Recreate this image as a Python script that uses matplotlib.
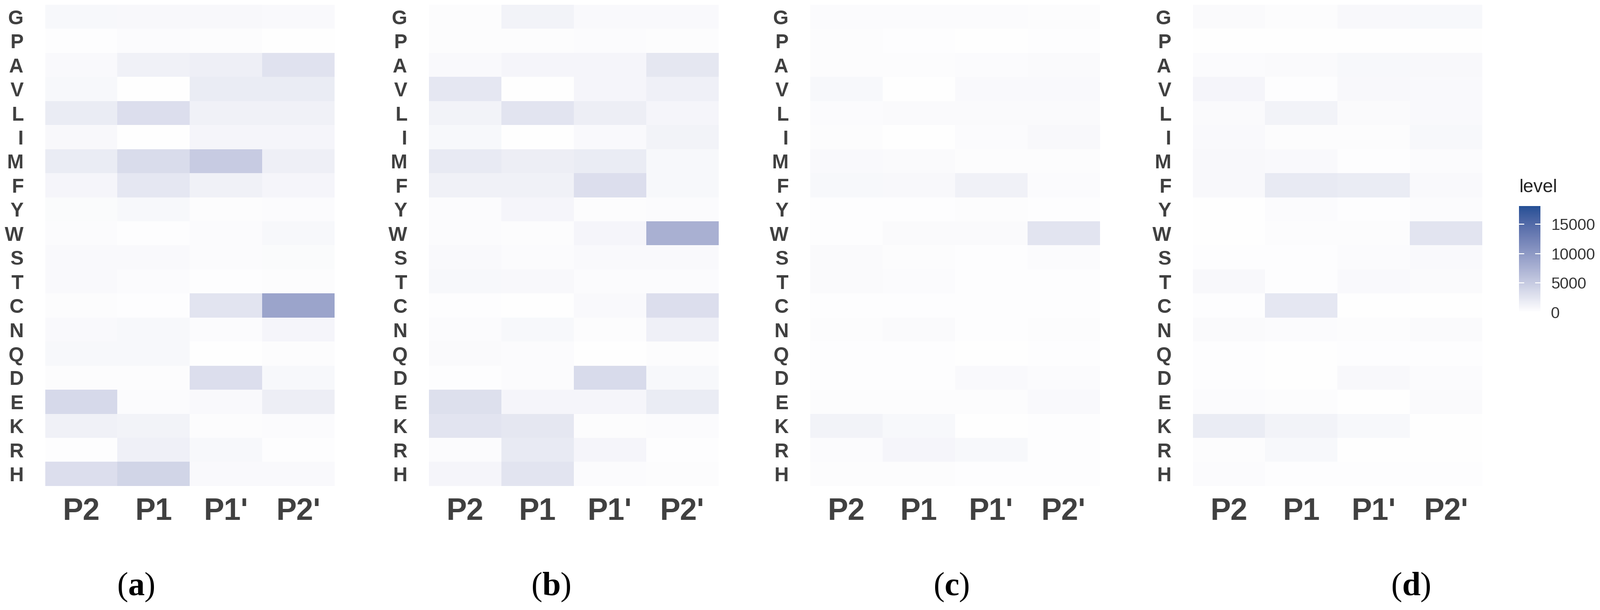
import numpy as np
import matplotlib.pyplot as plt
from matplotlib.colors import ListedColormap, Normalize

plt.rcParams['mathtext.fontset'] = 'custom'
plt.rcParams['mathtext.rm'] = 'Liberation Serif'
plt.rcParams['mathtext.bf'] = 'Liberation Serif:bold'

residues = ["G", "P", "A", "V", "L", "I", "M", "F", "Y", "W",
            "S", "T", "C", "N", "Q", "D", "E", "K", "R", "H"]
positions = ["P2", "P1", "P1'", "P2'"]
panel_tags = ["a", "b", "c", "d"]

# level for each residue (rows) at P2, P1, P1', P2'
level_a = [[700, 600, 600, 500], [150, 300, 250, 50], [500, 1300, 1500, 2700],
           [700, 0, 1800, 1800], [1800, 3100, 1300, 1300], [600, 100, 900, 900],
           [1800, 3300, 4900, 1500], [900, 2200, 1300, 900], [400, 700, 250, 350],
           [350, 200, 350, 700], [500, 500, 300, 400], [500, 350, 200, 250],
           [250, 150, 2500, 8800], [500, 700, 350, 900], [700, 700, 50, 250],
           [250, 250, 3100, 700], [3600, 350, 500, 1600], [1300, 1100, 250, 350],
           [200, 1400, 700, 150], [3100, 4000, 500, 500]]
level_b = [[250, 1100, 500, 500], [250, 250, 300, 250], [500, 900, 900, 2300],
           [2200, 0, 900, 1400], [1100, 2500, 1600, 900], [700, 0, 500, 1100],
           [2000, 1600, 1800, 700], [1300, 1300, 3100, 700], [350, 900, 250, 350],
           [350, 250, 900, 7600], [500, 350, 500, 500], [700, 600, 350, 300],
           [150, 100, 500, 3100], [350, 700, 250, 1400], [450, 350, 50, 250],
           [150, 350, 3400, 700], [2900, 900, 900, 1800], [2500, 2300, 250, 350],
           [350, 2000, 900, 200], [900, 2500, 350, 250]]
level_c = [[350, 350, 350, 250], [250, 150, 80, 150], [250, 250, 350, 450],
           [700, 0, 500, 500], [350, 450, 450, 450], [250, 0, 350, 600],
           [500, 450, 250, 250], [700, 600, 1300, 350], [150, 150, 250, 150],
           [150, 450, 450, 2500], [450, 250, 150, 350], [450, 350, 150, 150],
           [150, 150, 150, 150], [250, 450, 150, 250], [150, 150, 100, 150],
           [150, 150, 500, 350], [250, 250, 250, 500], [1100, 700, 100, 150],
           [350, 900, 700, 150], [250, 250, 150, 150]]
level_d = [[450, 250, 600, 700], [80, 80, 80, 80], [350, 450, 700, 600],
           [900, 150, 600, 500], [450, 1100, 450, 500], [500, 250, 250, 700],
           [600, 500, 150, 350], [600, 2000, 1800, 500], [80, 350, 150, 350],
           [80, 250, 250, 2500], [150, 150, 350, 500], [600, 150, 500, 450],
           [150, 2200, 80, 80], [450, 350, 250, 450], [150, 80, 150, 150],
           [150, 80, 600, 350], [350, 250, 80, 450], [1800, 1100, 700, 80],
           [250, 700, 80, 80], [350, 150, 150, 150]]
level_max = 18100

# white -> blue gradient interpolated in Lab, like ggplot's scale_fill_gradient
M = np.array([[0.4124, 0.3576, 0.1805], [0.2126, 0.7152, 0.0722], [0.0193, 0.1192, 0.9505]])
WP = np.array([0.95047, 1.0, 1.08883])

def to_lab(rgb):
    c = np.asarray(rgb, float) / 255
    c = np.where(c <= 0.04045, c / 12.92, ((c + 0.055) / 1.055) ** 2.4)
    xyz = c @ M.T / WP
    f = np.where(xyz > 0.008856, np.cbrt(xyz), 7.787 * xyz + 16 / 116)
    return np.array([116 * f[1] - 16, 500 * (f[0] - f[1]), 200 * (f[1] - f[2])])

def from_lab(lab):
    fy = (lab[:, 0] + 16) / 116
    f = np.stack([fy + lab[:, 1] / 500, fy, fy - lab[:, 2] / 200], -1)
    xyz = np.where(f ** 3 > 0.008856, f ** 3, (f - 16 / 116) / 7.787) * WP
    c = xyz @ np.linalg.inv(M).T
    c = np.where(c <= 0.0031308, 12.92 * c, 1.055 * np.clip(c, 0, None) ** (1 / 2.4) - 0.055)
    return np.clip(c, 0, 1)

lo, hi = to_lab([255, 255, 255]), to_lab([36, 80, 150])
t = np.linspace(0, 1, 256)[:, None]
cmap = ListedColormap(from_lab(lo + t * (hi - lo)))
norm = Normalize(0, level_max)

W, H = 3357, 1279
fig = plt.figure(figsize=(W / 100, H / 100), dpi=100)

lefts = [95, 900, 1700, 2503]
tag_x = [285, 1156, 1996, 2960]
for lev, x0, tag, tx in zip([level_a, level_b, level_c, level_d], lefts, panel_tags, tag_x):
    ax = fig.add_axes([x0 / W, 1 - 1019 / H, 607 / W, 1009 / H])
    ax.imshow(np.array(lev), cmap=cmap, norm=norm, aspect='auto', interpolation='nearest')
    ax.set_yticks(range(len(residues)))
    ax.set_yticklabels(residues, fontsize=30, fontweight='bold', color='#404040',
                       family='Liberation Sans')
    ax.set_xticks(range(len(positions)))
    ax.set_xticklabels(positions, fontsize=46, fontweight='bold', color='#404040',
                       family='Liberation Sans')
    ax.tick_params(axis='y', length=0, pad=33)
    ax.tick_params(axis='x', length=0, pad=17)
    for s in ax.spines.values():
        s.set_visible(False)
    fig.text(tx / W, 1 - 1231 / H, "($\\mathbf{" + tag + "}$)", fontsize=50,
             family='Liberation Serif', ha='center', va='center')

# legend bar
cax = fig.add_axes([3187 / W, 1 - 655 / H, 45 / W, 223 / H])
cb = fig.colorbar(plt.cm.ScalarMappable(norm=norm, cmap=cmap), cax=cax)
cb.outline.set_visible(False)
cb.set_ticks([0, 5000, 10000, 15000])
cax.yaxis.set_ticks_position('both')
cax.tick_params(direction='in', color='white', length=8, width=1.5,
                labelsize=24, labelcolor='#333333', pad=16)
for lab in cax.get_yticklabels():
    lab.set_family('Liberation Sans')
fig.text(3187 / W, 1 - 393 / H, "level", fontsize=28, family='Liberation Sans',
         ha='left', va='center', color='#222222')

fig.savefig("out.png", dpi=100)
